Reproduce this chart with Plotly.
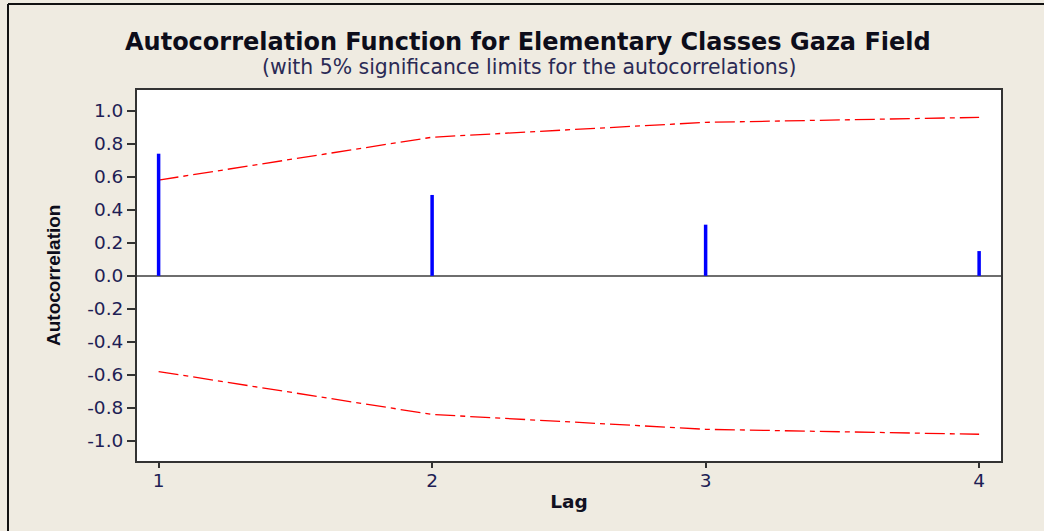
import plotly.graph_objects as go

lags = [1, 2, 3, 4]
acf = [0.74, 0.49, 0.31, 0.15]
upper_limit = [0.58, 0.84, 0.93, 0.96]
lower_limit = [-0.58, -0.84, -0.93, -0.96]
y_ticks = [1.0, 0.8, 0.6, 0.4, 0.2, 0.0, -0.2, -0.4, -0.6, -0.8, -1.0]
y_tick_labels = ["1.0", "0.8", "0.6", "0.4", "0.2", "0.0", "-0.2", "-0.4", "-0.6", "-0.8", "-1.0"]
x_ticks = [1, 2, 3, 4]

title = "Autocorrelation Function for Elementary Classes Gaza Field"
subtitle = "(with 5% significance limits for the autocorrelations)"

bar_x, bar_y = [], []
for lag, v in zip(lags, acf):
    bar_x += [lag, lag, None]
    bar_y += [0, v, None]

fig = go.Figure()
dash = "20px,5px,5px,5px"
fig.add_trace(go.Scatter(x=lags, y=upper_limit, mode="lines",
                         line=dict(color="#ff0000", width=1.3, dash=dash),
                         hoverinfo="skip", showlegend=False))
fig.add_trace(go.Scatter(x=lags, y=lower_limit, mode="lines",
                         line=dict(color="#ff0000", width=1.3, dash=dash),
                         hoverinfo="skip", showlegend=False))
fig.add_trace(go.Scatter(x=bar_x, y=bar_y, mode="lines",
                         line=dict(color="#0000ff", width=3.5),
                         showlegend=False))

tick_font = dict(family="DejaVu Sans", size=18.5, color="#1e1e55")

fig.update_layout(
    width=1044, height=531,
    margin=dict(l=137, r=43, t=90, b=70),
    paper_bgcolor="#efebe1",
    plot_bgcolor="#ffffff",
    showlegend=False,
    xaxis=dict(range=[0.921, 4.080], tickvals=x_ticks, ticktext=[str(t) for t in x_ticks],
               showgrid=False, zeroline=False, showline=True, mirror=True,
               linecolor="#333333", linewidth=2, ticks="outside", ticklen=5,
               tickcolor="#333333", tickwidth=1.5, tickfont=tick_font,
               ticklabelstandoff=-3,
               title=dict(text="<b>Lag</b>", font=dict(family="DejaVu Sans", size=18.5, color="#111122"),
                          standoff=5)),
    yaxis=dict(range=[-1.122, 1.126], tickvals=y_ticks, ticktext=y_tick_labels,
               showgrid=False, zeroline=True, zerolinecolor="#6e6e6e", zerolinewidth=1.5,
               showline=True, mirror=True, linecolor="#333333", linewidth=2,
               ticks="outside", ticklen=8, tickcolor="#333333", tickwidth=1.5,
               tickfont=tick_font),
    annotations=[
        dict(text="<b>" + title + "</b>", xref="paper", yref="paper",
             x=(528 - 137) / 864, y=(461 - 42) / 371,
             xanchor="center", yanchor="middle", showarrow=False,
             font=dict(family="DejaVu Sans", size=24, color="#0d0d1a")),
        dict(text=subtitle, xref="paper", yref="paper",
             x=(529 - 137) / 864, y=(461 - 67) / 371,
             xanchor="center", yanchor="middle", showarrow=False,
             font=dict(family="DejaVu Sans", size=20.4, color="#2a2a55")),
        dict(text="<b>Autocorrelation</b>", xref="paper", yref="paper",
             x=(53 - 137) / 864, y=(461 - 276) / 371,
             xanchor="center", yanchor="middle", textangle=-90, showarrow=False,
             font=dict(family="Liberation Sans", size=19, color="#0d0d1a")),
    ],
    shapes=[
        dict(type="line", xref="paper", yref="paper", x0=-0.1493, y0=-0.5,
             x1=-0.1493, y1=1.2318, line=dict(color="#111111", width=2), layer="below"),
        dict(type="line", xref="paper", yref="paper", x0=-0.1493, y0=1.2318,
             x1=1.6, y1=1.2318, line=dict(color="#111111", width=2), layer="below"),
    ],
)

fig.write_html("out.html")
